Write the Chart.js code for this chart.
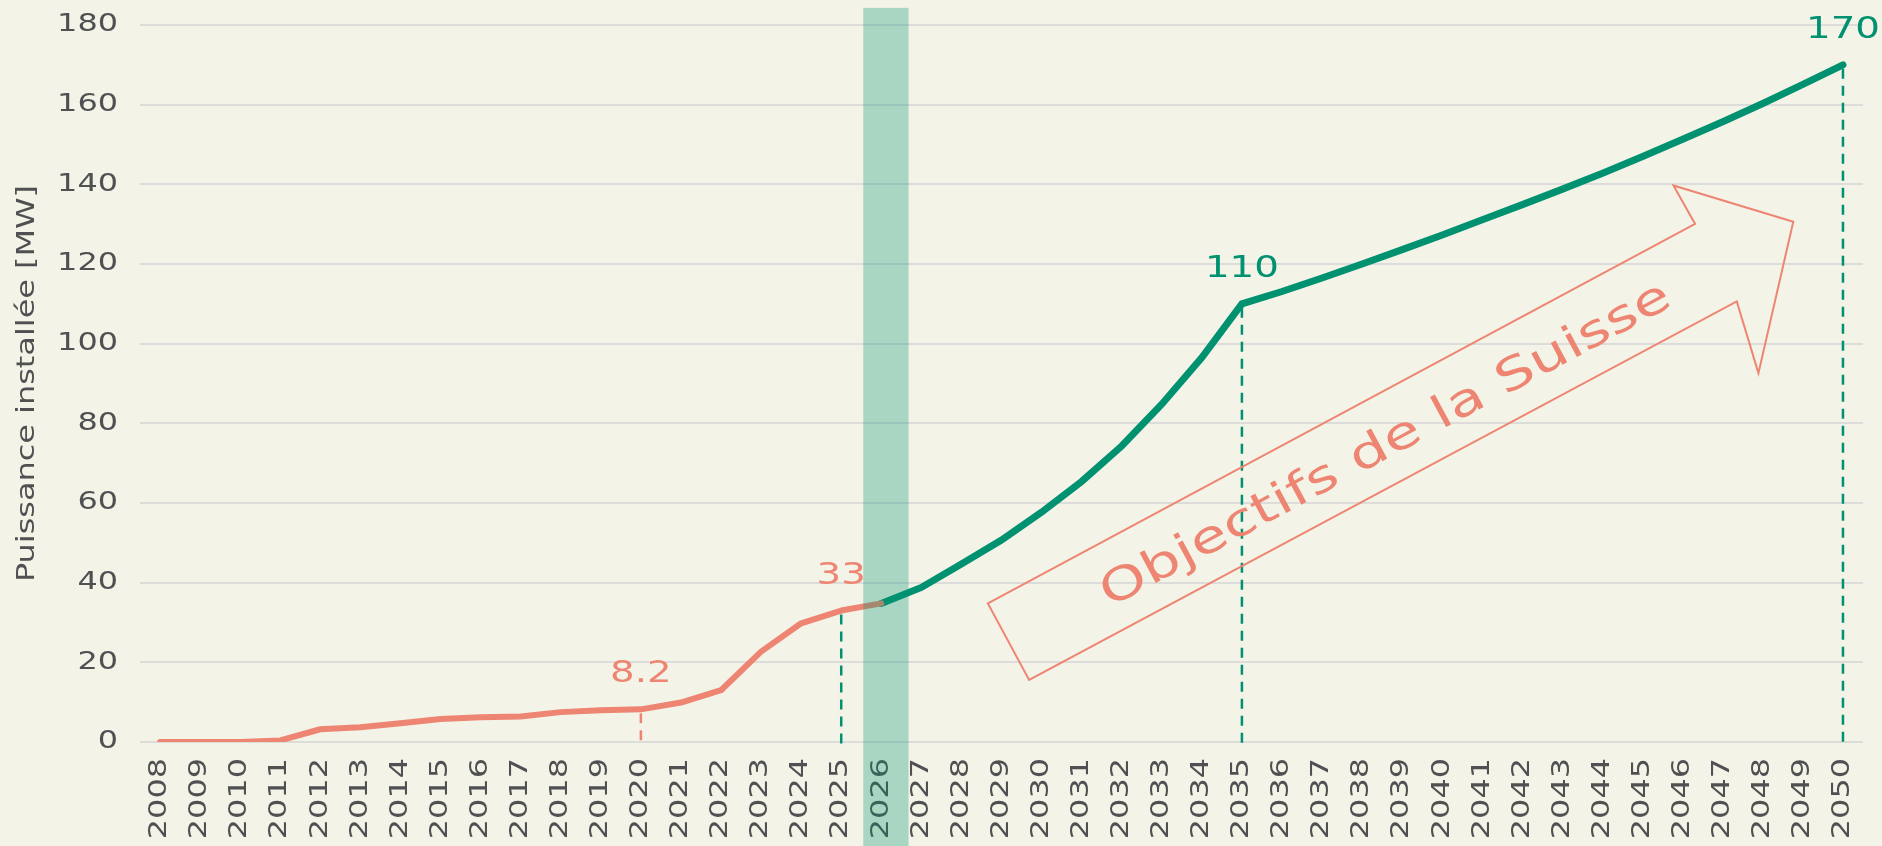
<!DOCTYPE html>
<html>
<head>
<meta charset="utf-8">
<script src="https://cdn.jsdelivr.net/npm/chart.js@4/dist/chart.umd.min.js"></script>
<style>
  html, body { margin: 0; padding: 0; background: #f3f3e7; }
  canvas { display: block; }
</style>
</head>
<body>
<canvas id="c" width="1882" height="846"></canvas>
<script>
// ---------- data ----------
const years = [];
for (let y = 2008; y <= 2050; y++) years.push(String(y));

// installed power, historic (2008–2026)
const historicValues = [0, 0, 0, 0.4, 3.2, 3.7, 4.7, 5.8, 6.2, 6.4, 7.5, 8.0, 8.2, 9.9, 13.0, 22.7, 29.8, 33.0, 34.8];
// Swiss targets (2026–2050)
const targetValues = [34.8, 38.8, 44.7, 50.7, 57.7, 65.4, 74.3, 84.8, 96.5, 110.0,
  113.1, 116.5, 120.0, 123.6, 127.3, 131.1, 134.9, 138.8, 142.8, 147.0, 151.3, 155.7, 160.3, 165.1, 170.0];

const yTicks = [0, 20, 40, 60, 80, 100, 120, 140, 160, 180];

const markedYears = ['2020', '2025', '2035', '2050'];
const markedLabels = ['8.2', '33', '110', '170'];
const markedSeries = ['historic', 'historic', 'target', 'target'];
const markedDashSeries = ['historic', 'target', 'target', 'target'];

const currentYear = '2026';
const arrowText = 'Objectifs de la Suisse';

// ---------- styles ----------
const SALMON = '#ee8572';
const GREEN = '#009171';
const TEXT_GREY = '#505052';
const FONT = '"DejaVu Sans", sans-serif';
const STRETCH = 1.33; // imitate the extended typeface

// horizontally stretched text rendering (text stays real text)
(function () {
  const proto = CanvasRenderingContext2D.prototype;
  const of = proto.fillText, om = proto.measureText;
  proto.fillText = function (t, x, y) {
    const k = this.__k || STRETCH;
    this.save();
    this.translate(x, y);
    this.scale(k, 1);
    of.call(this, t, 0, 0);
    this.restore();
  };
  proto.measureText = function (t) {
    const k = this.__k || STRETCH;
    const m = om.call(this, t);
    return {
      width: m.width * k,
      actualBoundingBoxAscent: m.actualBoundingBoxAscent,
      actualBoundingBoxDescent: m.actualBoundingBoxDescent,
      actualBoundingBoxLeft: m.actualBoundingBoxLeft * k,
      actualBoundingBoxRight: m.actualBoundingBoxRight * k,
      fontBoundingBoxAscent: m.fontBoundingBoxAscent,
      fontBoundingBoxDescent: m.fontBoundingBoxDescent
    };
  };
})();

const n = years.length;
const historicData = years.map((y, i) => i < historicValues.length ? historicValues[i] : null);
const targetStart = n - targetValues.length;
const targetData = years.map((y, i) => i >= targetStart ? targetValues[i - targetStart] : null);
const seriesMap = { historic: historicData, target: targetData };
const seriesColor = { historic: SALMON, target: GREEN };

// annotation geometry (in data units: year, MW)
const arrowShape = [[2028.66, 34.8], [2046.31, 130.05], [2045.77, 139.7], [2048.76, 130.6],
  [2047.89, 92.6], [2047.35, 110.6], [2029.69, 15.6]];
const arrowTextAt = [2038.6, 74.3];

function yearPx(xs, yr) {
  const p0 = xs.getPixelForValue(0), p1 = xs.getPixelForValue(1);
  return p0 + (yr - 2008) * (p1 - p0);
}

const annotations = {
  id: 'annotations',
  afterDatasetsDraw(chart) {
    const ctx = chart.ctx, xs = chart.scales.x, ys = chart.scales.y;
    const bottom = chart.chartArea.bottom;
    ctx.save();
    // dashed drop lines + labels
    markedYears.forEach((yr, k) => {
      const idx = years.indexOf(yr);
      const v = seriesMap[markedSeries[k]][idx];
      const px = xs.getPixelForValue(idx), py = ys.getPixelForValue(v);
      ctx.setLineDash([10, 7]);
      ctx.lineWidth = 2.5;
      ctx.strokeStyle = seriesColor[markedDashSeries[k]];
      ctx.beginPath();
      ctx.moveTo(px, py + 4);
      ctx.lineTo(px, bottom + 4);
      ctx.stroke();
      ctx.setLineDash([]);
      ctx.fillStyle = seriesColor[markedSeries[k]];
      ctx.font = '31px ' + FONT;
      ctx.textAlign = 'center';
      ctx.textBaseline = 'alphabetic';
      ctx.__k = 1.25;
      ctx.fillText(markedLabels[k], px, py - 27);
      ctx.__k = 0;
    });
    // arrow outline
    ctx.strokeStyle = SALMON;
    ctx.lineWidth = 2;
    ctx.lineJoin = 'miter';
    ctx.beginPath();
    arrowShape.forEach((p, i) => {
      const x = yearPx(xs, p[0]), y = ys.getPixelForValue(p[1]);
      if (i === 0) ctx.moveTo(x, y); else ctx.lineTo(x, y);
    });
    ctx.closePath();
    ctx.stroke();
    // arrow text
    const a0x = yearPx(xs, arrowShape[0][0]), a0y = ys.getPixelForValue(arrowShape[0][1]);
    const a1x = yearPx(xs, arrowShape[1][0]), a1y = ys.getPixelForValue(arrowShape[1][1]);
    const ang = Math.atan2(a1y - a0y, a1x - a0x);
    const tx = yearPx(xs, arrowTextAt[0]), ty = ys.getPixelForValue(arrowTextAt[1]);
    ctx.translate(tx, ty);
    ctx.rotate(ang);
    ctx.fillStyle = SALMON;
    ctx.font = '45px ' + FONT;
    ctx.textAlign = 'center';
    ctx.textBaseline = 'middle';
    ctx.fillText(arrowText, 0, 0);
    ctx.restore();
  },
  afterDraw(chart) {
    const ctx = chart.ctx, xs = chart.scales.x, ys = chart.scales.y;
    const idx = years.indexOf(currentYear);
    const px = xs.getPixelForValue(idx);
    const step = xs.getPixelForValue(1) - xs.getPixelForValue(0);
    const top = ys.getPixelForValue(184.3);
    ctx.save();
    ctx.fillStyle = 'rgba(0,145,113,0.3)';
    ctx.fillRect(px - 0.45 * step, top, 1.13 * step, chart.height - top);
    ctx.restore();
  }
};

new Chart(document.getElementById('c'), {
  type: 'line',
  data: {
    labels: years,
    datasets: [
      {
        label: 'Historique',
        data: historicData,
        borderColor: SALMON,
        borderWidth: 6,
        pointRadius: 0,
        tension: 0,
        borderCapStyle: 'round',
        borderJoinStyle: 'round',
        spanGaps: false
      },
      {
        label: 'Objectifs',
        data: targetData,
        borderColor: GREEN,
        borderWidth: 7,
        pointRadius: 0,
        tension: 0,
        borderCapStyle: 'round',
        borderJoinStyle: 'miter',
        spanGaps: false
      }
    ]
  },
  options: {
    responsive: false,
    devicePixelRatio: 1,
    animation: false,
    layout: { autoPadding: false, padding: { top: 25, right: 19, bottom: 0, left: 0 } },
    plugins: { legend: { display: false }, tooltip: { enabled: false } },
    scales: {
      x: {
        type: 'category',
        offset: true,
        grid: { display: false, drawTicks: false },
        border: { display: false },
        ticks: {
          color: TEXT_GREY,
          font: { family: FONT, size: 24 },
          minRotation: 90,
          maxRotation: 90,
          autoSkip: false,
          padding: 16
        },
        afterFit(s) { s.height = 104; s.paddingLeft = 0; s.paddingRight = 0; }
      },
      y: {
        min: 0,
        max: 180,
        afterBuildTicks(s) { s.ticks = yTicks.map(v => ({ value: v })); },
        grid: { color: '#dcdcda', lineWidth: 2, drawTicks: false },
        border: { display: false },
        ticks: {
          color: TEXT_GREY,
          font: { family: FONT, size: 24 },
          padding: 22
        },
        title: {
          display: true,
          text: 'Puissance installée [MW]',
          color: TEXT_GREY,
          font: { family: FONT, size: 24 },
          padding: { top: 13, bottom: 0 }
        },
        afterFit(s) { s.width = 140; s.paddingTop = 0; s.paddingBottom = 0; }
      }
    }
  },
  plugins: [annotations]
});
</script>
</body>
</html>
